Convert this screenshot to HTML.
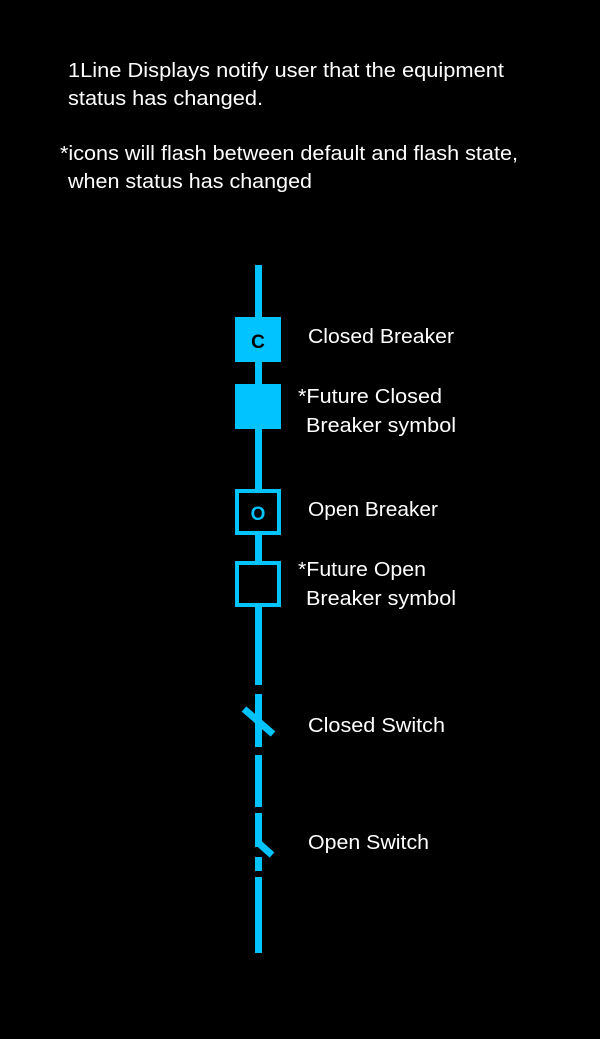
<!DOCTYPE html>
<html><head><meta charset="utf-8"><style>
html,body{margin:0;padding:0;background:#000;}
svg{display:block;}
text{font-family:"Liberation Sans",sans-serif;fill:#fff;}
</style></head><body>
<svg width="600" height="1039" viewBox="0 0 600 1039">
<rect width="600" height="1039" fill="#000"/>
<g font-size="20">
<text x="68" y="77" textLength="436" lengthAdjust="spacingAndGlyphs">1Line Displays notify user that the equipment</text>
<text x="68" y="105" textLength="195" lengthAdjust="spacingAndGlyphs">status has changed.</text>
</g>
<g font-size="20" style="fill:#e8e8e8">
<text x="60" y="160" textLength="458" lengthAdjust="spacingAndGlyphs">*icons will flash between default and flash state,</text>
<text x="68" y="188" textLength="244" lengthAdjust="spacingAndGlyphs">when status has changed</text>
</g>
<g fill="#00c3ff">
<rect x="255" y="265" width="7" height="420"/>
<rect x="235" y="317" width="46" height="45"/>
<rect x="235" y="384" width="46" height="45"/>
<rect x="235" y="489" width="46" height="46"/>
<rect x="239" y="493" width="38" height="38" fill="#000"/>
<rect x="235" y="561" width="46" height="46"/>
<rect x="239" y="565" width="38" height="38" fill="#000"/>
<rect x="255" y="694" width="7" height="53"/>
<rect x="255" y="755" width="7" height="52"/>
<rect x="255" y="813" width="7" height="34"/>
<rect x="255" y="857" width="7" height="14"/>
<rect x="255" y="877" width="7" height="76"/>
</g>
<line x1="244" y1="709" x2="273" y2="734" stroke="#00c3ff" stroke-width="7"/>
<polyline points="258.5,843 272,855" fill="none" stroke="#00c3ff" stroke-width="7"/>
<text x="258" y="348" font-size="19" font-weight="bold" text-anchor="middle" style="fill:#000">C</text>
<text x="258" y="520" font-size="19" font-weight="bold" text-anchor="middle" style="fill:#00c3ff">O</text>
<g font-size="20">
<text x="308" y="343" textLength="146" lengthAdjust="spacingAndGlyphs">Closed Breaker</text>
<text x="298" y="403" textLength="144" lengthAdjust="spacingAndGlyphs">*Future Closed</text>
<text x="306" y="432" textLength="150" lengthAdjust="spacingAndGlyphs">Breaker symbol</text>
<text x="308" y="516" textLength="130" lengthAdjust="spacingAndGlyphs">Open Breaker</text>
<text x="298" y="576" textLength="128" lengthAdjust="spacingAndGlyphs">*Future Open</text>
<text x="306" y="605" textLength="150" lengthAdjust="spacingAndGlyphs">Breaker symbol</text>
<text x="308" y="732" textLength="137" lengthAdjust="spacingAndGlyphs">Closed Switch</text>
<text x="308" y="849" textLength="121" lengthAdjust="spacingAndGlyphs">Open Switch</text>
</g>
</svg>
</body></html>
